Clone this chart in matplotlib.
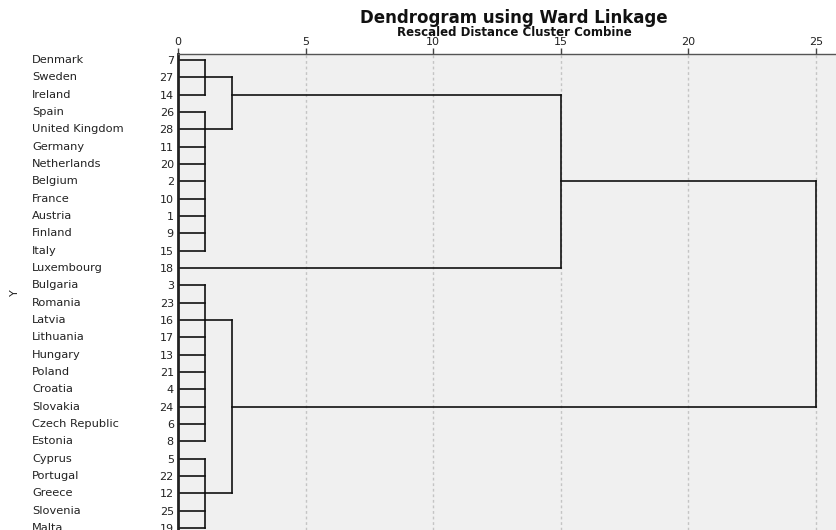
import matplotlib
matplotlib.use("Agg")
import matplotlib.pyplot as plt

# countries in dendrogram order (top to bottom) and their case numbers
countries = ["Denmark", "Sweden", "Ireland", "Spain", "United Kingdom", "Germany",
             "Netherlands", "Belgium", "France", "Austria", "Finland", "Italy",
             "Luxembourg", "Bulgaria", "Romania", "Latvia", "Lithuania", "Hungary",
             "Poland", "Croatia", "Slovakia", "Czech Republic", "Estonia", "Cyprus",
             "Portugal", "Greece", "Slovenia", "Malta"]
case_ids = [7, 27, 14, 26, 28, 11, 20, 2, 10, 1, 9, 15, 18, 3, 23, 16, 17, 13,
            21, 4, 24, 6, 8, 5, 22, 12, 25, 19]

# first level clusters: first row, last row, rescaled distance
leaf_first = [0, 3, 13, 23]
leaf_last = [2, 11, 22, 27]
leaf_height = [1.05, 1.05, 1.05, 1.05]

# higher merges: (row, height) of the two children and the merge height
merge_a_row = [1, 15, 2, 7]
merge_a_h = [1.05, 1.05, 2.1, 15.0]
merge_b_row = [4, 25, 12, 20]
merge_b_h = [1.05, 1.05, 0.0, 2.1]
merge_height = [2.1, 2.1, 15.0, 25.0]

ticks = [0, 5, 10, 15, 20, 25]

plt.rcParams['font.family'] = ['DejaVu Sans']

fig = plt.figure(figsize=(8.37, 5.30), dpi=100)
ax = fig.add_axes([178 / 837, 0.0, 1 - 178 / 837, 1 - 54 / 530])
ax.set_facecolor("#f0f0f0")

lc = "#111111"
lw = 1.2

# grid lines
for t in ticks[1:]:
    ax.axvline(t, color="#c4c4c4", lw=1.0, ls=(0, (2, 2)), zorder=0)

# leaf clusters
for f, l, h in zip(leaf_first, leaf_last, leaf_height):
    for r in range(f, l + 1):
        ax.plot([0, h], [r, r], color=lc, lw=lw)
    ax.plot([h, h], [f, l], color=lc, lw=lw)

# merges
for ra, ha, rb, hb, h in zip(merge_a_row, merge_a_h, merge_b_row, merge_b_h, merge_height):
    ax.plot([ha, h], [ra, ra], color=lc, lw=lw)
    ax.plot([hb, h], [rb, rb], color=lc, lw=lw)
    ax.plot([h, h], [ra, rb], color=lc, lw=lw)

ax.set_xlim(0, 25.82)
ax.set_ylim(27.12, -0.35)

ax.xaxis.tick_top()
ax.set_xticks(ticks)
ax.set_xticklabels([str(t) for t in ticks], fontsize=8, color="#222222")
ax.tick_params(axis="x", direction="out", length=4, width=1, color="#444444", pad=1)

ax.set_yticks(range(len(case_ids)))
ax.set_yticklabels([str(c) for c in case_ids], fontsize=8, color="#222222")
ax.tick_params(axis="y", length=0, pad=3)

for i, name in enumerate(countries):
    ax.text(-0.2215, i, name, transform=ax.get_yaxis_transform(),
            ha="left", va="center", fontsize=8.2, color="#222222")

for s in ["right", "bottom"]:
    ax.spines[s].set_visible(False)
ax.spines["left"].set_linewidth(2.0)
ax.spines["left"].set_color("#222222")
ax.spines["top"].set_linewidth(1.0)
ax.spines["top"].set_color("#555555")

fig.text(514 / 837, 1 - 18 / 530, "Dendrogram using Ward Linkage", ha="center",
         va="center", fontsize=12, fontweight="bold", color="#111111")
fig.text(514 / 837, 1 - 32 / 530, "Rescaled Distance Cluster Combine", ha="center",
         va="center", fontsize=8.5, fontweight="bold", color="#111111")
fig.text(15 / 837, 1 - 293 / 530, "Y", rotation=90, ha="center", va="center",
         fontsize=8, color="#222222")

fig.savefig("out.png", dpi=100)
